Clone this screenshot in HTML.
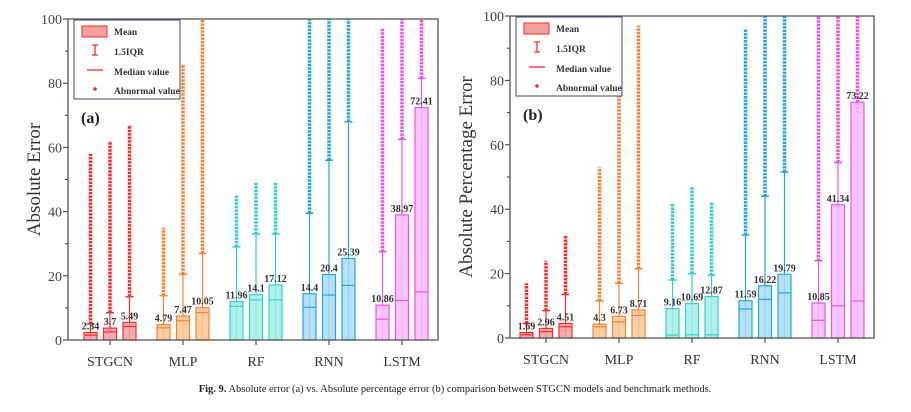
<!DOCTYPE html>
<html><head><meta charset="utf-8"><style>
body{margin:0;background:#fff;}
svg{display:block;font-family:"Liberation Serif",serif;}
</style></head><body>
<svg id="c" width="911" height="412"></svg>
<script>
const groups=["STGCN","MLP","RF","RNN","LSTM"];
const colors=["#ff2a2a","#ff8030","#30d0d0","#20a8e0","#f050f0"];
const fills=["#f7a0a0","#fcc898","#a4eee6","#a8dcf4","#fabcfa"];
const yTicks=[0,20,40,60,80,100];
const meanA=[2.34,3.7,5.49,4.79,7.47,10.05,11.96,14.1,17.12,14.4,20.4,25.39,10.86,38.97,72.41];
const medA=[1.5,2.5,4.2,3.8,6,8.5,10.5,12.5,12.5,10.2,14,17,6.5,12.3,15];
const whA=[5,8.5,13.5,13.8,20.5,27,29,33,33,39.5,56,68,27.5,62.5,81.5];
const outA=[58,62,67,35,86,100,45,49,49,100,100,100,97,100,100];
const meanB=[1.69,2.96,4.51,4.3,6.73,8.71,9.16,10.69,12.87,11.59,16.22,19.79,10.85,41.34,73.22];
const medB=[1,2,3.5,3.5,5,7,0.9,1,1,9,12,14,5.5,10,11.5];
const whB=[4.5,8.5,13.5,11.5,17,21.5,18,20,19.5,32,44,51.5,24,54.5,70];
const outB=[17,24,32,53,95,97,42,47,42,96,100,100,100,100,100];

const svg=document.getElementById('c');
const NS="http://www.w3.org/2000/svg";
function mk(t,a,txt){const e=document.createElementNS(NS,t);for(const k in a)e.setAttribute(k,a[k]);if(txt!==undefined)e.textContent=txt;svg.appendChild(e);return e;}

function panel(P){
  const y=v=>P.y1-(P.y1-P.y0)*v/100;
  const gx=g=>P.gx0+g*P.gs;
  yTicks.forEach(t=>{
    let e=mk('line',{x1:P.x0-5,x2:P.x0,y1:y(t),y2:y(t),stroke:'#333','stroke-width':1});
    
    e=mk('text',{x:P.x0-6,y:y(t)+5,'text-anchor':'end','font-size':14,fill:'#444'},t);
    
    if(t<100){e=mk('line',{x1:P.x0-3,x2:P.x0,y1:y(t+10),y2:y(t+10),stroke:'#333'});
    }
  });
  for(let g=0;g<5;g++){
    for(let k=0;k<3;k++){
      const i=g*3+k;const cx=gx(g)+(k-1)*P.off;const c=colors[g];
      let e=mk('line',{x1:cx,x2:cx,y1:y(P.wh[i]),y2:y(P.out[i]),stroke:c,'stroke-width':3.5,'stroke-dasharray':'2.5 1'});
      
      e=mk('line',{x1:cx,x2:cx,y1:y(0),y2:y(P.wh[i]),stroke:c,'stroke-width':1.2});
      
      e=mk('line',{x1:cx-4,x2:cx+4,y1:y(P.wh[i]),y2:y(P.wh[i]),stroke:c,'stroke-width':1.5});
      
      e=mk('rect',{x:cx-6.5,y:y(P.mean[i]),width:13,height:y(0)-y(P.mean[i]),fill:fills[g],'fill-opacity':0.85,stroke:c,'stroke-width':1.2});
      
      e=mk('line',{x1:cx-6.5,x2:cx+6.5,y1:y(P.med[i]),y2:y(P.med[i]),stroke:c,'stroke-width':1.2});
      
      e=mk('text',{x:cx,y:y(P.mean[i])-3,'text-anchor':'middle','font-size':10,'font-weight':'bold',fill:'#333'},P.mean[i]);
      
    }
    let e=mk('line',{x1:gx(g),x2:gx(g),y1:P.y1,y2:P.y1+5,stroke:'#333'});
    
    e=mk('text',{x:gx(g),y:P.y1+26,'text-anchor':'middle','font-size':14,fill:'#333'},groups[g]);
    
  }
  let e=mk('rect',{x:P.x0,y:P.y0,width:P.x1-P.x0,height:P.y1-P.y0,fill:'none',stroke:'#555','stroke-width':1.3});
  
  e=mk('text',{x:0,y:0,'font-size':19,fill:'#333','text-anchor':'middle',transform:`translate(${P.tx},${(P.y0+P.y1)/2}) rotate(-90)`},P.title);
  
  const L=P.x0+6,T=P.y0+1;
  e=mk('rect',{x:L,y:T,width:106,height:79,fill:'#fff',stroke:'#3a4a7a','stroke-width':1});
  
  e=mk('rect',{x:L+8,y:T+6,width:25,height:11,fill:'#f7a0a0',stroke:'#ff2a2a'});
  
  e=mk('path',{d:`M${L+18} ${T+25}h6M${L+21} ${T+25}v10M${L+18} ${T+35}h6`,stroke:'#ff2a2a',fill:'none','stroke-width':1.3});
  
  e=mk('line',{x1:L+13,x2:L+29,y1:T+50,y2:T+50,stroke:'#ff2a2a','stroke-width':1.3});
  
  e=mk('circle',{cx:L+21,cy:T+69,r:1.8,fill:'#ff2a2a'});
  
  [["Mean",15],["1.5IQR",35],["Median value",55],["Abnormal value",74]].forEach(([s,dy])=>{
    const t=mk('text',{x:L+40,y:T+dy,'font-size':9.5,'font-weight':'bold',fill:'#333'},s);
    
  });
  e=mk('text',{x:P.x0+13,y:P.y0+104,'font-size':16,'font-weight':'bold',fill:'#222'},P.label);
  
}
panel({x0:68,x1:438,y0:19,y1:340,gx0:110,gs:73,off:19.5,mean:meanA,med:medA,wh:whA,out:outA,title:"Absolute Error",tx:40,label:"(a)"});
panel({x0:510,x1:874,y0:16,y1:338,gx0:546,gs:73,off:19.5,mean:meanB,med:medB,wh:whB,out:outB,title:"Absolute  Percentage  Error",tx:472,label:"(b)"});
const cap=mk('text',{x:455,y:392,'text-anchor':'middle','font-size':10.5,fill:'#222'});


cap.innerHTML='<tspan font-weight="bold">Fig. 9.</tspan> Absolute error (a) vs. Absolute percentage error (b) comparison between STGCN models and benchmark methods.';
</script>
</body></html>
